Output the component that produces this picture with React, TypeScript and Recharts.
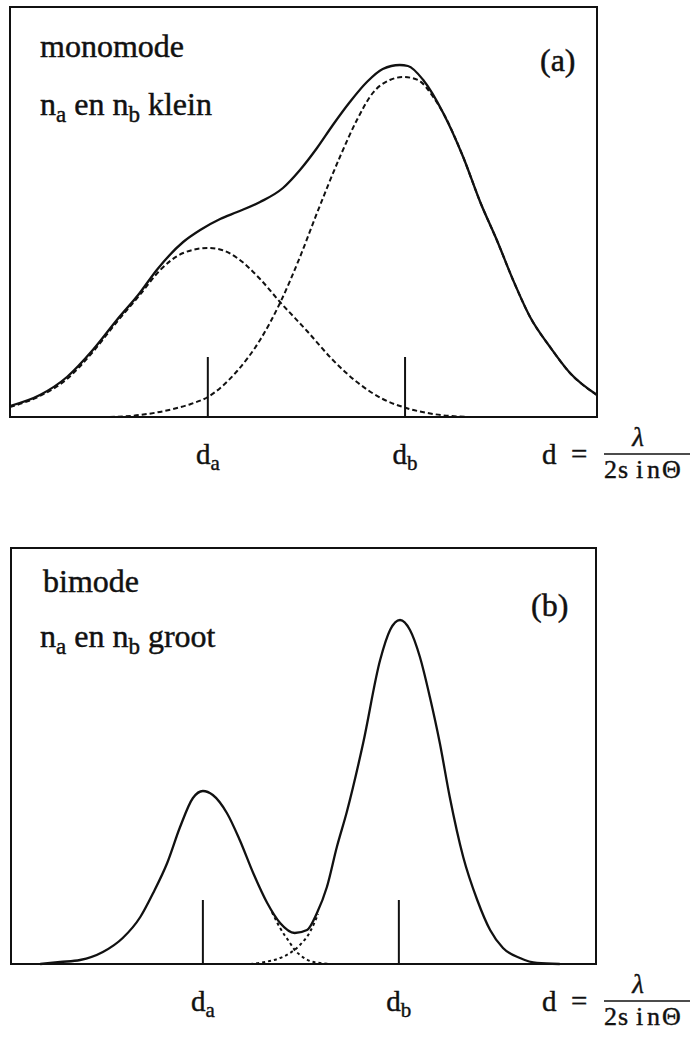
import React from 'react';
import {
  LineChart,
  Line,
  XAxis,
  YAxis,
  ReferenceArea,
  ReferenceLine,
  Customized,
} from 'recharts';

const FONT = '"Liberation Serif", "Times New Roman", serif';
const INK = '#111';

// d runs over 0–100 (relative units); intensity in arbitrary units.

// (a) monomode: n_a and n_b small
const MONO_PEAKS = [33.7, 67.3];
const MONO_TOP = 410;
const MONO_TICK = 60;
const monoTotal: [number, number][] = [
  [0, 11], [5.1, 22], [9.7, 40], [14.1, 67], [18.2, 97], [22.1, 124], [25.0, 147],
  [29.5, 175], [32.4, 187], [35.8, 198], [38.7, 205], [42.6, 215], [46.5, 229],
  [49.4, 247], [52.3, 269], [55.0, 292], [57.9, 315], [60.8, 335], [63.5, 348],
  [66.4, 352], [67.8, 351], [70.4, 337], [73.8, 304], [77.2, 260], [80.1, 215],
  [83.0, 176], [85.7, 137], [88.6, 100], [92.0, 70], [95.4, 44], [100, 22],
];
const monoA: [number, number][] = [
  [0, 10], [5.1, 21], [9.7, 38], [14.1, 65], [18.2, 95], [22.1, 122], [25.6, 147],
  [29.5, 164], [33.7, 169], [36.1, 167], [38.7, 159], [42.6, 138], [46.0, 115],
  [50.6, 86], [55.0, 57], [59.1, 35], [63.5, 18], [67.5, 9], [72.1, 3], [78.4, 0],
];
const monoB: [number, number][] = [
  [17.0, 0], [22.1, 2], [27.8, 8], [30.8, 13], [33.7, 20], [36.2, 31], [38.7, 46],
  [42.6, 77], [46.0, 114], [49.4, 160], [52.3, 204], [56.2, 260], [59.1, 297],
  [61.8, 324], [64.7, 337], [67.0, 340], [69.5, 337], [72.1, 320], [73.8, 304],
  [77.2, 260], [80.1, 215], [83.0, 176], [85.7, 137], [88.6, 100], [92.0, 70],
  [95.4, 44], [100, 22],
];

// (b) bimode: n_a and n_b large
const BI_PEAKS = [32.8, 66.3];
const BI_TOP = 416;
const BI_TICK = 64;
const biTotal: [number, number][] = [
  [5.0, 0], [8.4, 2], [11.8, 4], [15.7, 12], [19.1, 26], [22.1, 47], [24.3, 71],
  [26.7, 101], [28.9, 137], [31.1, 166], [32.8, 173], [34.5, 169], [36.9, 151],
  [39.1, 124], [41.4, 91], [43.8, 61], [46.0, 41], [48.5, 31], [50.6, 34],
  [52.3, 51], [54.0, 77], [55.7, 117], [57.4, 152], [60.2, 221], [63.1, 304],
  [64.8, 334], [66.5, 344], [68.2, 334], [69.9, 307], [71.6, 267], [73.3, 221],
  [75.0, 167], [77.3, 107], [79.7, 64], [81.9, 34], [84.1, 16], [87.0, 6],
  [89.9, 1], [93.8, 0],
];
const biA: [number, number][] = [
  [44.6, 52], [46.0, 36], [47.7, 21], [48.5, 14], [49.4, 9], [51.1, 3], [52.8, 1], [55.0, 0],
];
const biB: [number, number][] = [
  [40.9, 0], [43.4, 2], [46.0, 6], [47.7, 11], [49.4, 19], [51.1, 32], [52.5, 50],
];

const PEAK_SUBS = ['a', 'b'];
const DENOM = ['2', 's', 'i', 'n', 'Θ'];

const rows = (pts: [number, number][]) => pts.map(([x, y]) => ({ x, y }));

function makeTick(peaks: number[]) {
  return function PeakTick(props: any) {
    const { x, y, payload } = props;
    const i = peaks.indexOf(payload.value);
    return (
      <text
        x={x}
        y={y + 47}
        fontFamily={FONT}
        fontSize={29}
        fill={INK}
        stroke={INK}
        strokeWidth={0.4}
        textAnchor="middle"
      >
        d
        <tspan fontSize={21} dy={6}>{PEAK_SUBS[i]}</tspan>
      </text>
    );
  };
}

// d = λ / (2 sin Θ), set to the right of the axis
function Formula({ x, baseline }: { x: number; baseline: number }) {
  const denomX = [62, 76, 94, 105, 120];
  return (
    <g fontFamily={FONT} fill={INK} stroke={INK} strokeWidth={0.4}>
      <text x={x} y={baseline} fontSize={29}>d</text>
      <text x={x + 29} y={baseline} fontSize={29}>=</text>
      <line x1={x + 62} x2={x + 148} y1={baseline - 10} y2={baseline - 10} stroke={INK} strokeWidth={1.6} />
      <text x={x + 96} y={baseline - 18} fontSize={27} fontStyle="italic" textAnchor="middle">λ</text>
      <text y={baseline + 14} fontSize={26}>
        {DENOM.map((ch, i) => (
          <tspan key={i} x={x + denomX[i]}>{ch}</tspan>
        ))}
      </text>
    </g>
  );
}

function PanelText({
  title, tail, tag, titleXY, lineXY, tagXY, baseline,
}: {
  title: string; tail: string; tag: string;
  titleXY: [number, number]; lineXY: [number, number]; tagXY: [number, number]; baseline: number;
}) {
  return (
    <g>
      <g fontFamily={FONT} fill={INK} stroke={INK} strokeWidth={0.45}>
        <text x={titleXY[0]} y={titleXY[1]} fontSize={32}>{title}</text>
        <text x={lineXY[0]} y={lineXY[1]} fontSize={32}>
          n<tspan fontSize={23} dy={7}>a</tspan>
          <tspan dy={-7}> en n</tspan>
          <tspan fontSize={23} dy={7}>b</tspan>
          <tspan dy={-7}>{' ' + tail}</tspan>
        </text>
        <text x={tagXY[0]} y={tagXY[1]} fontSize={32}>{tag}</text>
      </g>
      <Formula x={542} baseline={baseline} />
    </g>
  );
}

function Panel({
  top, height, margin, yTop, tickLen, peaks, total, compA, compB, dash, notes,
}: any) {
  return (
    <div style={{ position: 'absolute', left: 0, top, width: 694, height }}>
      <LineChart width={694} height={height} margin={margin}>
        <XAxis
          type="number"
          dataKey="x"
          domain={[0, 100]}
          ticks={peaks}
          interval={0}
          axisLine={false}
          tickLine={false}
          tickSize={0}
          tickMargin={0}
          height={60}
          tick={makeTick(peaks)}
          allowDuplicatedCategory={false}
        />
        <YAxis type="number" domain={[0, yTop]} hide />
        <ReferenceArea x1={0} x2={100} y1={0} y2={yTop} fill="none" stroke={INK} strokeWidth={2} fillOpacity={0} />
        {peaks.map((p: number) => (
          <ReferenceLine
            key={p}
            segment={[{ x: p, y: 0 }, { x: p, y: tickLen }]}
            stroke={INK}
            strokeWidth={2}
          />
        ))}
        <Line data={rows(compA)} dataKey="y" type="monotone" stroke={INK} strokeWidth={2} strokeDasharray={dash} dot={false} isAnimationActive={false} />
        <Line data={rows(compB)} dataKey="y" type="monotone" stroke={INK} strokeWidth={2} strokeDasharray={dash} dot={false} isAnimationActive={false} />
        <Line data={rows(total)} dataKey="y" type="monotone" stroke={INK} strokeWidth={2.3} dot={false} isAnimationActive={false} />
        <Customized component={notes} />
      </LineChart>
    </div>
  );
}

const MonoNotes = () => (
  <PanelText
    title="monomode"
    tail="klein"
    tag="(a)"
    titleXY={[40, 57]}
    lineXY={[40, 115]}
    tagXY={[540, 71]}
    baseline={464}
  />
);

const BiNotes = () => (
  <PanelText
    title="bimode"
    tail="groot"
    tag="(b)"
    titleXY={[43, 92]}
    lineXY={[40, 147]}
    tagXY={[531, 116]}
    baseline={511}
  />
);

export default function App() {
  return (
    <div style={{ position: 'absolute', left: 0, top: 0, width: 694, height: 1042, background: '#fff' }}>
      <Panel
        top={0}
        height={500}
        margin={{ top: 7, right: 97, bottom: 23, left: 10 }}
        yTop={MONO_TOP}
        tickLen={MONO_TICK}
        peaks={MONO_PEAKS}
        total={monoTotal}
        compA={monoA}
        compB={monoB}
        dash="5 3"
        notes={MonoNotes}
      />
      <Panel
        top={500}
        height={542}
        margin={{ top: 48, right: 98, bottom: 18, left: 11 }}
        yTop={BI_TOP}
        tickLen={BI_TICK}
        peaks={BI_PEAKS}
        total={biTotal}
        compA={biA}
        compB={biB}
        dash="3 3"
        notes={BiNotes}
      />
    </div>
  );
}
